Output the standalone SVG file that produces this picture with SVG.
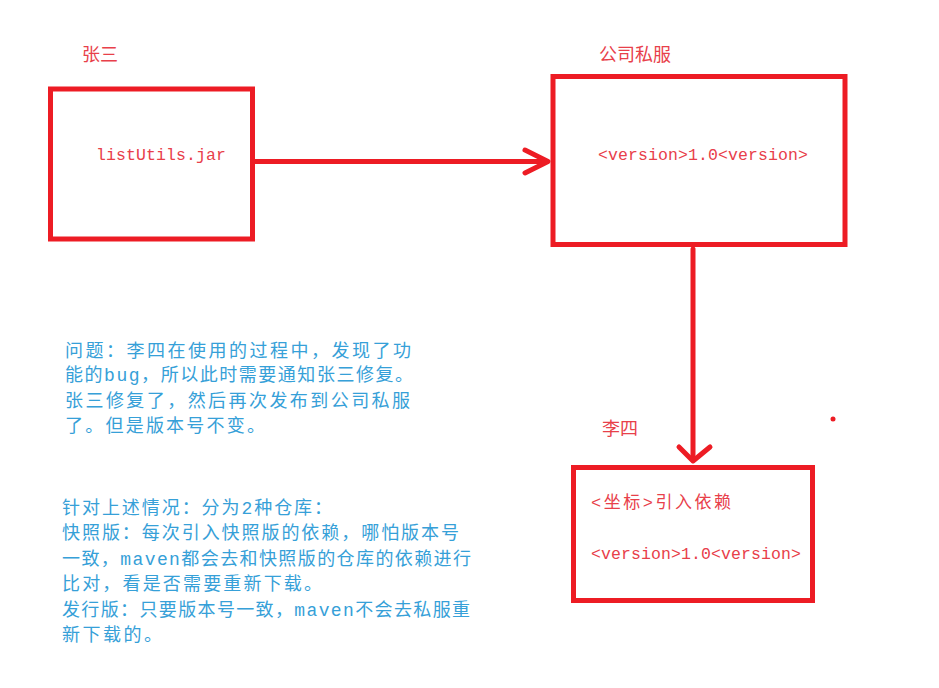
<svg xmlns="http://www.w3.org/2000/svg" width="939" height="688" viewBox="0 0 939 688">
<style>
.box{fill:#ffffff;stroke:#ed1c24;stroke-width:5}
.lbl{fill:#e8404a;font-family:"Noto Sans CJK SC",sans-serif;font-size:18px}
.code{fill:#e8404a;font-family:"Liberation Mono","Noto Sans CJK SC",monospace;font-size:16.5px}
.note{fill:#36a0d8;font-family:"Liberation Mono","Noto Sans CJK SC",monospace;font-size:18px}
.con{fill:none;stroke:#ed1c24;stroke-width:5;stroke-linecap:round;stroke-linejoin:round}
</style>
<rect width="939" height="688" fill="#ffffff"/>
<g id="zhangsan">
<text class="lbl" x="82" y="60.5">张三</text>
<rect class="box" x="50.5" y="89" width="202" height="150"/>
<text class="code" x="96" y="160" textLength="130" lengthAdjust="spacing">listUtils.jar</text>
</g>
<g id="private-server">
<text class="lbl" x="599" y="61">公司私服</text>
<rect class="box" x="553" y="76.5" width="292" height="168"/>
<text class="code" x="598" y="160" textLength="210" lengthAdjust="spacing">&lt;version&gt;1.0&lt;version&gt;</text>
</g>
<g id="lisi">
<text class="lbl" x="602" y="435">李四</text>
<rect class="box" x="573.5" y="467.5" width="239" height="133"/>
<text class="code" x="591" y="508" textLength="140" lengthAdjust="spacing" style="font-size:17px">&lt;坐标&gt;引入依赖</text>
<text class="code" x="591" y="559" textLength="210" lengthAdjust="spacing">&lt;version&gt;1.0&lt;version&gt;</text>
</g>
<g id="connectors">
<line class="con" x1="255" y1="161.5" x2="547" y2="161.5"/>
<polyline class="con" points="525,150 548,161.5 525,173"/>
<line class="con" x1="693" y1="249" x2="693" y2="460"/>
<polyline class="con" points="679,447 693,461 710,447"/>
</g>
<circle cx="833" cy="419" r="2.5" fill="#ed1c24"/>
<g id="note-problem">
<text class="note" x="65" y="357" textLength="346" lengthAdjust="spacing">问题：李四在使用的过程中，发现了功</text>
<text class="note" x="65" y="381" textLength="348" lengthAdjust="spacing">能的bug，所以此时需要通知张三修复。</text>
<text class="note" x="65" y="407" textLength="345" lengthAdjust="spacing">张三修复了，然后再次发布到公司私服</text>
<text class="note" x="65" y="432" textLength="200" lengthAdjust="spacing">了。但是版本号不变。</text>
</g>
<g id="note-repos">
<text class="note" x="62" y="514" textLength="270" lengthAdjust="spacing">针对上述情况：分为2种仓库：</text>
<text class="note" x="62" y="539" textLength="397" lengthAdjust="spacing">快照版：每次引入快照版的依赖，哪怕版本号</text>
<text class="note" x="62" y="565" textLength="409" lengthAdjust="spacing">一致，maven都会去和快照版的仓库的依赖进行</text>
<text class="note" x="62" y="590" textLength="260" lengthAdjust="spacing">比对，看是否需要重新下载。</text>
<text class="note" x="62" y="616" textLength="408" lengthAdjust="spacing">发行版：只要版本号一致，maven不会去私服重</text>
<text class="note" x="62" y="641" textLength="100" lengthAdjust="spacing">新下载的。</text>
</g>
</svg>
